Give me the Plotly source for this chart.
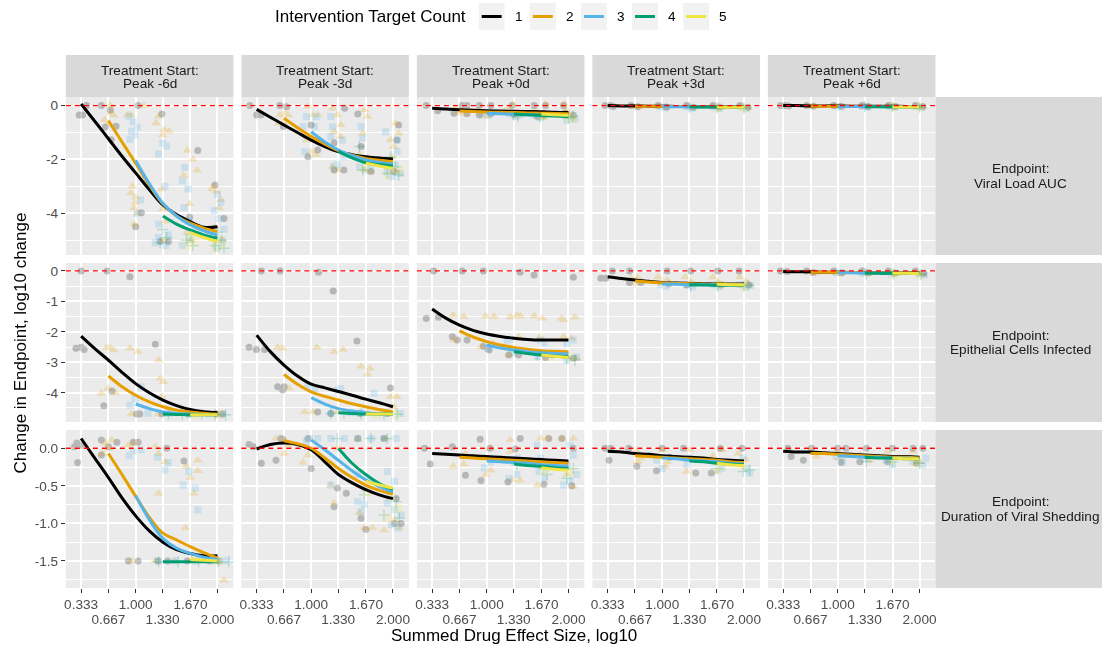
import plotly.graph_objects as go

W, H = 1103, 650
FONT = "Liberation Sans, Arial, sans-serif"

# ---------------- categories / labels ----------------
counts = [1, 2, 3, 4, 5]
count_colors = {1: "#000000", 2: "#E69F00", 3: "#56B4E9", 4: "#009E73", 5: "#F0E442"}
count_symbols = {1: "circle", 2: "triangle-up", 3: "square", 4: "cross-thin", 5: "square-x-open"}
starts = ["Peak -6d", "Peak -3d", "Peak +0d", "Peak +3d", "Peak +6d"]
endpoints = ["Viral Load AUC", "Epithelial Cells Infected", "Duration of Viral Shedding"]

x_ticks = [0.333, 0.667, 1.0, 1.33, 1.67, 2.0]
x_ticklabels = ["0.333", "0.667", "1.000", "1.330", "1.670", "2.000"]
fit_x = [0.333, 0.5, 0.667, 0.833, 1.0, 1.167, 1.333, 1.5, 1.667, 1.833, 2.0]

y_ticks_by_row = [[0, -2, -4], [0, -1, -2, -3, -4], [0.0, -0.5, -1.0, -1.5]]
y_ticklabels_by_row = [["0", "-2", "-4"], ["0", "-1", "-2", "-3", "-4"], ["0.0", "-0.5", "-1.0", "-1.5"]]
y_minor_by_row = [[-1, -3, -5], [-0.5, -1.5, -2.5, -3.5, -4.5], [-0.25, -0.75, -1.25, -1.75]]
y_ranges = [[-5.55, 0.32], [-4.96, 0.26], [-1.86, 0.243]]
x_range = [0.146, 2.195]

# ---------------- smoothed fits (y at fit_x, starting at x = count/3) ----------------
fit_vl_m6 = {1: [0.06, -0.58, -1.23, -1.88, -2.50, -3.12, -3.69, -4.05, -4.31, -4.52, -4.50],
             2: [-0.56, -1.35, -2.14, -2.95, -3.65, -4.10, -4.37, -4.55, -4.68],
             3: [-2.04, -2.90, -3.63, -4.10, -4.43, -4.65, -4.81],
             4: [-4.10, -4.40, -4.62, -4.80, -4.93],
             5: [-4.72, -4.90, -5.05]}
fit_vl_m3 = {1: [-0.14, -0.43, -0.72, -1.00, -1.28, -1.52, -1.71, -1.82, -1.90, -1.95, -1.98],
             2: [-0.47, -0.82, -1.15, -1.43, -1.67, -1.84, -1.96, -2.03, -2.08],
             3: [-0.97, -1.35, -1.65, -1.86, -2.02, -2.11, -2.17],
             4: [-1.71, -1.94, -2.12, -2.19, -2.24],
             5: [-2.14, -2.24, -2.33]}
fit_vl_p0 = {1: [-0.10, -0.13, -0.15, -0.17, -0.19, -0.20, -0.21, -0.22, -0.23, -0.25, -0.26],
             2: [-0.20, -0.22, -0.24, -0.25, -0.26, -0.27, -0.28, -0.29, -0.30],
             3: [-0.28, -0.30, -0.32, -0.34, -0.35, -0.37, -0.38],
             4: [-0.31, -0.34, -0.36, -0.39, -0.41],
             5: [-0.31, -0.34, -0.36]}
fit_vl_p3 = {1: [0.0, -0.01, -0.01, -0.02, -0.02, -0.03, -0.03, -0.03, -0.04, -0.04, -0.04],
             2: [-0.02, -0.02, -0.03, -0.03, -0.03, -0.04, -0.04, -0.05, -0.05],
             3: [-0.03, -0.04, -0.04, -0.05, -0.05, -0.06, -0.06],
             4: [-0.04, -0.05, -0.05, -0.06, -0.06],
             5: [-0.05, -0.06, -0.06]}
fit_vl_p6 = {1: [0.0, 0.0, -0.01, -0.01, -0.01, -0.02, -0.02, -0.02, -0.02, -0.03, -0.03],
             2: [-0.01, -0.02, -0.02, -0.02, -0.03, -0.03, -0.03, -0.03, -0.04],
             3: [-0.03, -0.03, -0.03, -0.04, -0.04, -0.04, -0.04],
             4: [-0.04, -0.04, -0.04, -0.05, -0.05],
             5: [-0.04, -0.05, -0.05]}
fit_ec_m6 = {1: [-2.14, -2.55, -2.93, -3.33, -3.70, -4.00, -4.24, -4.42, -4.55, -4.62, -4.65],
             2: [-3.45, -3.80, -4.08, -4.30, -4.46, -4.57, -4.63, -4.67, -4.70],
             3: [-4.37, -4.52, -4.63, -4.68, -4.70, -4.71, -4.72],
             4: [-4.70, -4.71, -4.72, -4.72, -4.72],
             5: [-4.72, -4.72, -4.72]}
fit_ec_m3 = {1: [-2.11, -2.65, -3.09, -3.45, -3.72, -3.84, -3.96, -4.08, -4.21, -4.33, -4.46],
             2: [-3.40, -3.72, -3.97, -4.12, -4.24, -4.36, -4.46, -4.55, -4.63],
             3: [-4.16, -4.37, -4.52, -4.60, -4.66, -4.69, -4.70],
             4: [-4.66, -4.68, -4.70, -4.70, -4.70],
             5: [-4.70, -4.70, -4.70]}
fit_ec_p0 = {1: [-1.25, -1.55, -1.78, -1.95, -2.07, -2.15, -2.21, -2.25, -2.27, -2.27, -2.27],
             2: [-1.97, -2.17, -2.32, -2.43, -2.51, -2.57, -2.62, -2.64, -2.65],
             3: [-2.43, -2.53, -2.60, -2.65, -2.69, -2.71, -2.73],
             4: [-2.65, -2.71, -2.76, -2.79, -2.82],
             5: [-2.76, -2.80, -2.84]}
fit_ec_p3 = {1: [-0.19, -0.25, -0.30, -0.34, -0.38, -0.40, -0.41, -0.42, -0.43, -0.43, -0.43],
             2: [-0.33, -0.36, -0.39, -0.41, -0.42, -0.43, -0.44, -0.44, -0.45],
             3: [-0.43, -0.44, -0.45, -0.45, -0.46, -0.46, -0.47],
             4: [-0.45, -0.46, -0.47, -0.47, -0.48],
             5: [-0.44, -0.45, -0.46]}
fit_ec_p6 = {1: [-0.02, -0.03, -0.03, -0.04, -0.04, -0.05, -0.05, -0.05, -0.06, -0.06, -0.06],
             2: [-0.04, -0.04, -0.05, -0.05, -0.06, -0.06, -0.06, -0.07, -0.07],
             3: [-0.06, -0.06, -0.07, -0.07, -0.07, -0.08, -0.08],
             4: [-0.07, -0.08, -0.08, -0.08, -0.09],
             5: [-0.08, -0.08, -0.09]}
fit_ds_m6 = {1: [0.13, -0.13, -0.39, -0.66, -0.90, -1.10, -1.25, -1.35, -1.40, -1.43, -1.43],
             2: [-0.07, -0.35, -0.64, -0.92, -1.13, -1.22, -1.31, -1.39, -1.46],
             3: [-0.63, -0.95, -1.20, -1.33, -1.40, -1.45, -1.48],
             4: [-1.51, -1.51, -1.51, -1.51, -1.51],
             5: [-1.48, -1.49, -1.50]}
fit_ds_m3 = {1: [-0.01, 0.05, 0.07, 0.05, -0.02, -0.18, -0.35, -0.46, -0.55, -0.62, -0.67],
             2: [0.10, 0.06, 0.0, -0.13, -0.27, -0.39, -0.49, -0.56, -0.61],
             3: [0.11, -0.02, -0.16, -0.30, -0.42, -0.51, -0.58],
             4: [0.0, -0.20, -0.35, -0.47, -0.55],
             5: [-0.44, -0.49, -0.53]}
fit_ds_p0 = {1: [-0.07, -0.08, -0.09, -0.10, -0.11, -0.12, -0.13, -0.14, -0.15, -0.16, -0.17],
             2: [-0.12, -0.13, -0.14, -0.15, -0.16, -0.17, -0.18, -0.19, -0.20],
             3: [-0.17, -0.18, -0.19, -0.20, -0.22, -0.23, -0.24],
             4: [-0.21, -0.23, -0.24, -0.26, -0.27],
             5: [-0.26, -0.28, -0.29]}
fit_ds_p3 = {1: [-0.04, -0.05, -0.07, -0.08, -0.10, -0.11, -0.12, -0.13, -0.15, -0.16, -0.17],
             2: [-0.10, -0.11, -0.12, -0.13, -0.14, -0.15, -0.16, -0.18, -0.19],
             3: [-0.13, -0.14, -0.16, -0.17, -0.18, -0.20, -0.21],
             4: [-0.17, -0.18, -0.20, -0.21, -0.22],
             5: [-0.20, -0.22, -0.23]}
fit_ds_p6 = {1: [-0.04, -0.05, -0.05, -0.06, -0.07, -0.08, -0.09, -0.10, -0.11, -0.11, -0.12],
             2: [-0.07, -0.07, -0.08, -0.09, -0.10, -0.11, -0.12, -0.12, -0.13],
             3: [-0.10, -0.11, -0.12, -0.12, -0.13, -0.13, -0.14],
             4: [-0.12, -0.13, -0.13, -0.14, -0.14],
             5: [-0.13, -0.14, -0.14]}

# ---------------- simulation points (x, y) ----------------
pts_vl_m6 = {
    1: [(0.31, -0.35), (0.35, -0.35), (0.40, 0.0), (0.58, 0.0), (0.69, -0.17), (0.63, -0.79), (0.76, -0.77), (0.70, -1.27), (1.03, 0.0), (1.00, -4.50), (1.07, -3.98), (1.32, -0.31), (1.76, -1.67), (1.97, -2.95), (1.66, -4.15), (2.08, -4.19), (1.30, -5.05), (1.40, -5.05)],
    2: [(0.69, 0.0), (0.70, -0.27), (0.73, -0.35), (0.62, -0.53), (0.67, -0.65), (0.90, -0.35), (0.94, -0.35), (0.96, -3.0), (0.94, -3.25), (1.0, -3.4), (0.98, -3.8), (1.0, -3.6), (1.02, -4.0), (0.98, -4.4), (1.10, 0.0), (1.28, -0.4), (1.25, -0.65), (1.33, -1.1), (1.35, -0.9), (1.41, -0.95), (1.32, -3.1), (1.33, -3.85), (1.36, -4.3), (1.34, -5.0), (1.63, -1.67), (1.70, -2.0), (1.75, -2.4), (1.59, -2.6), (1.66, -3.65), (1.63, -4.7), (1.68, -5.0), (1.95, -3.0), (1.93, -3.1), (1.99, -3.2), (2.04, -3.5), (2.02, -3.8), (1.97, -4.5), (2.06, -5.0)],
    3: [(0.92, -0.4), (0.97, -0.6), (1.02, -0.8), (0.99, -1.1), (0.93, -1.25), (0.95, -0.95), (1.06, -3.5), (1.02, -4.0), (1.33, -1.4), (1.38, -1.5), (1.28, -1.8), (1.36, -3.0), (1.28, -4.4), (1.40, -4.8), (1.28, -4.9), (1.24, -5.1), (1.37, -5.2), (1.60, -2.3), (1.57, -2.8), (1.64, -3.1), (1.59, -3.8), (1.65, -4.3), (1.66, -5.0), (1.57, -5.2), (2.0, -3.3), (2.04, -3.6), (1.96, -3.9), (2.02, -4.2), (2.08, -4.6), (2.06, -5.0), (1.98, -5.2), (2.0, -5.3)],
    4: [(1.33, -4.6), (1.38, -4.9), (1.30, -5.1), (1.67, -4.8), (1.62, -5.0), (1.70, -5.2), (2.0, -4.7), (2.05, -5.0), (1.97, -5.2), (2.08, -5.3)],
    5: [(1.67, -4.9), (1.72, -5.1), (1.63, -5.2), (2.0, -5.0), (2.05, -5.2), (1.97, -5.3)],
}
pts_vl_m3 = {
    1: [(0.25, 0), (0.333, -0.35), (0.386, -0.35), (0.616, 0), (0.70, -0.04), (0.66, -0.78), (1.0, -0.72), (0.96, -1.9), (1.08, -1.65), (1.28, -1.38), (1.41, -0.1), (1.57, -0.31), (1.61, -1.52), (2.07, -0.72), (2.05, -1.28), (1.28, -2.39), (1.40, -2.39), (1.73, -2.45), (2.01, -2.45)],
    2: [(0.616, -0.35), (0.68, -0.29), (0.72, -0.35), (0.60, -0.66), (0.66, -0.66), (0.96, -0.04), (1.02, -0.35), (1.08, -0.35), (0.94, -1.28), (1.0, -1.71), (1.06, -1.83), (1.26, -0.1), (1.32, -0.35), (1.36, -0.72), (1.28, -0.97), (1.36, -1.15), (1.26, -2.27), (1.32, -2.39), (1.65, -0.16), (1.69, -0.41), (1.63, -1.03), (1.59, -1.83), (1.65, -2.39), (1.73, -2.45), (2.03, -0.66), (2.07, -1.03), (1.97, -1.28), (2.01, -1.52), (1.99, -1.9), (2.05, -2.45)],
    3: [(0.94, -0.41), (0.90, -0.78), (0.92, -1.71), (1.06, -0.41), (1.04, -0.78), (1.24, -0.41), (1.26, -0.78), (1.24, -1.15), (1.38, -1.28), (1.40, -1.9), (1.32, -2.2), (1.28, -2.27), (1.61, -0.78), (1.63, -1.21), (1.59, -2.27), (1.67, -2.39), (1.73, -2.33), (1.91, -0.97), (2.05, -1.28), (2.05, -1.71), (2.03, -2.2), (1.93, -2.45), (2.09, -2.52), (1.99, -2.64)],
    4: [(1.59, -1.52), (1.69, -2.02), (1.63, -2.39), (1.97, -1.9), (2.03, -2.27), (1.93, -2.52), (2.07, -2.58)],
    5: [(1.65, -2.33), (1.97, -2.08), (2.07, -2.39), (1.93, -2.58)],
}
pts_vl_p0 = {
    1: [(0.26, 0), (0.40, -0.19), (0.60, -0.28), (0.70, 0), (0.76, 0), (0.76, -0.30), (0.91, 0), (0.91, -0.35), (1.05, 0), (1.05, -0.30), (1.31, 0), (1.33, -0.32), (1.58, 0), (1.62, -0.40), (1.72, 0), (1.70, -0.36), (1.94, 0), (1.96, -0.28), (2.06, -0.35)],
    2: [(0.62, -0.10), (0.70, -0.20), (0.72, -0.30), (0.64, -0.25), (0.90, -0.15), (0.95, -0.30), (1.00, -0.40), (1.05, -0.20), (1.25, -0.10), (1.30, -0.30), (1.36, -0.40), (1.32, 0.05), (1.60, -0.20), (1.65, -0.35), (1.72, 0.05), (1.70, -0.45), (1.95, 0.05), (2.00, -0.30), (2.05, -0.45), (1.97, -0.15)],
    3: [(0.95, -0.30), (1.02, -0.35), (1.08, -0.25), (1.28, -0.30), (1.35, -0.40), (1.40, -0.35), (1.58, -0.35), (1.65, -0.45), (1.72, -0.30), (1.95, -0.35), (2.02, -0.45), (2.08, -0.50), (1.98, -0.55)],
    4: [(1.33, -0.35), (1.38, -0.40), (1.65, -0.42), (1.70, -0.35), (2.00, -0.45), (2.05, -0.40)],
    5: [(1.67, -0.35), (2.00, -0.42), (2.04, -0.50)],
}
pts_vl_p3 = {
    1: [(0.30, 0), (0.37, 0), (0.40, -0.03), (0.62, 0), (0.70, -0.04), (0.95, 0), (1.05, -0.05), (1.30, 0), (1.38, -0.06), (1.62, 0), (1.70, -0.05), (1.95, 0), (2.05, -0.06)],
    2: [(0.62, -0.02), (0.72, -0.06), (0.95, -0.03), (1.05, -0.07), (1.28, -0.02), (1.38, -0.08), (1.62, -0.03), (1.72, -0.08), (1.95, -0.02), (2.05, -0.08)],
    3: [(0.98, -0.05), (1.04, -0.08), (1.30, -0.05), (1.37, -0.10), (1.63, -0.05), (1.70, -0.10), (1.96, -0.05), (2.03, -0.11)],
    4: [(1.33, -0.06), (1.67, -0.08), (2.00, -0.09)],
    5: [(1.67, -0.08), (2.00, -0.10)],
}
pts_vl_p6 = {
    1: [(0.30, 0), (0.36, 0), (0.40, -0.01), (0.62, 0), (0.70, -0.02), (0.95, 0), (1.04, -0.02), (1.30, 0), (1.37, -0.03), (1.62, 0), (1.70, -0.03), (1.95, 0), (2.04, -0.03)],
    2: [(0.63, -0.01), (0.72, -0.03), (0.96, -0.02), (1.05, -0.04), (1.28, -0.01), (1.38, -0.04), (1.62, -0.02), (1.72, -0.05), (1.96, -0.02), (2.05, -0.05)],
    3: [(0.98, -0.03), (1.04, -0.05), (1.30, -0.03), (1.37, -0.06), (1.63, -0.03), (1.70, -0.06), (1.96, -0.03), (2.03, -0.07)],
    4: [(1.33, -0.04), (1.67, -0.05), (2.00, -0.06)],
    5: [(1.67, -0.05), (2.00, -0.06)],
}
pts_ec_m6 = {
    1: [(0.27, -2.54), (0.333, -2.51), (0.37, -2.58), (0.333, 0), (0.65, 0), (0.93, -0.19), (0.61, -4.43), (0.71, -3.94), (1.24, -2.41), (1.01, -4.70), (1.05, -4.70), (1.32, -4.70), (1.65, -4.70), (1.98, -4.70), (2.06, -4.70)],
    2: [(0.65, -2.51), (0.69, -2.54), (0.73, -2.60), (0.93, -2.54), (1.03, -2.65), (1.28, -2.93), (1.30, -3.53), (1.34, -3.64), (1.32, -4.13), (0.58, -4.02), (0.66, -3.86), (0.75, -4.0), (0.95, -4.70), (1.28, -4.70), (1.48, -4.70), (1.73, -4.70), (2.01, -4.70)],
    3: [(0.93, -4.41), (0.99, -4.2), (1.07, -3.8), (1.15, -4.68), (1.40, -4.68), (1.65, -4.70), (1.89, -4.70), (2.06, -4.70)],
    4: [(1.40, -4.72), (1.57, -4.72), (1.81, -4.72), (1.97, -4.72), (2.10, -4.72)],
    5: [(1.73, -4.72), (2.01, -4.72)],
}
pts_ec_m3 = {
    1: [(0.24, -2.51), (0.33, -2.58), (0.43, -2.58), (0.39, 0), (0.62, 0), (1.09, -0.04), (1.27, -0.66), (1.56, -2.30), (0.59, -3.80), (0.65, -3.91), (0.67, -3.80), (1.08, -4.63), (1.24, -4.68), (1.60, -4.68), (1.97, -3.84), (1.93, -4.68)],
    2: [(0.59, -2.51), (0.65, -2.54), (1.07, -2.51), (1.28, -2.65), (1.39, -2.58), (1.61, -3.13), (1.72, -3.20), (1.69, -3.40), (1.97, -4.13), (2.05, -4.13), (0.73, -3.86), (0.92, -4.63), (1.02, -4.63), (1.32, -4.63), (1.40, -4.63), (1.69, -4.66), (1.93, -4.66), (2.01, -4.46)],
    3: [(0.96, -3.80), (1.04, -3.86), (1.32, -3.91), (1.36, -3.86), (1.77, -4.02), (1.24, -4.68), (1.48, -4.66), (1.62, -4.66), (1.93, -4.66), (2.09, -4.68)],
    4: [(1.24, -4.68), (1.40, -4.68), (1.61, -4.70), (1.89, -4.70), (2.05, -4.70)],
    5: [(1.81, -4.70), (2.03, -4.70)],
}
pts_ec_p0 = {
    1: [(0.26, -1.56), (0.41, -1.52), (0.35, 0), (0.70, 0), (0.96, 0), (1.41, -0.04), (1.58, -0.13), (2.06, -0.21), (0.58, -2.16), (0.64, -2.27), (0.76, -2.27), (0.96, -2.47), (1.03, -2.60), (1.27, -2.76), (1.39, -2.76), (1.72, -2.84), (2.06, -2.87)],
    2: [(0.59, -1.45), (0.72, -1.50), (0.99, -1.48), (1.09, -1.50), (1.29, -1.52), (1.37, -1.45), (1.41, -1.48), (1.58, -1.48), (1.68, -1.56), (1.91, -1.56), (1.94, -1.61), (2.08, -1.52), (0.60, -2.27), (0.93, -2.49), (1.08, -2.38), (1.39, -2.16), (1.65, -2.18), (1.94, -2.16), (2.04, -2.21), (1.27, -2.76), (1.60, -2.71), (1.77, -2.80), (1.98, -2.82), (2.10, -2.87)],
    3: [(1.25, -2.27), (1.29, -2.25), (1.66, -2.27), (1.70, -2.36), (1.98, -2.38), (2.06, -2.27), (1.01, -2.54), (1.33, -2.69), (1.62, -2.82), (1.78, -2.71), (1.98, -2.93), (2.10, -2.82)],
    4: [(1.62, -2.76), (1.98, -2.87), (2.08, -2.93)],
    5: [(1.78, -2.82), (2.02, -2.82)],
}
pts_ec_p3 = {
    1: [(0.25, -0.24), (0.31, -0.24), (0.39, 0), (0.60, 0), (0.60, -0.38), (0.74, -0.38), (1.06, 0), (1.08, -0.43), (1.35, 0), (1.30, -0.46), (1.68, 0), (1.72, -0.46), (1.94, 0), (2.06, -0.46)],
    2: [(0.62, -0.25), (0.70, -0.20), (0.75, -0.35), (0.68, -0.42), (0.95, -0.20), (1.00, -0.40), (1.06, -0.30), (1.28, -0.20), (1.35, -0.35), (1.40, -0.45), (1.62, -0.20), (1.68, -0.35), (1.74, -0.45), (1.95, -0.20), (2.02, -0.35), (2.07, -0.45)],
    3: [(0.98, -0.45), (1.04, -0.50), (1.30, -0.45), (1.37, -0.52), (1.62, -0.45), (1.70, -0.52), (1.95, -0.45), (2.02, -0.52), (2.08, -0.48)],
    4: [(1.35, -0.50), (1.68, -0.50), (2.00, -0.52), (2.05, -0.47)],
    5: [(1.70, -0.48), (2.00, -0.50)],
}
pts_ec_p6 = {
    1: [(0.30, 0), (0.38, -0.02), (0.62, 0), (0.70, -0.05), (0.95, 0), (1.05, -0.06), (1.30, 0), (1.38, -0.06), (1.62, 0), (1.70, -0.07), (1.95, 0), (2.05, -0.08)],
    2: [(0.64, -0.03), (0.72, -0.08), (0.96, -0.04), (1.04, -0.10), (1.28, -0.04), (1.36, -0.10), (1.62, -0.05), (1.72, -0.10), (1.96, -0.05), (2.04, -0.11)],
    3: [(0.98, -0.06), (1.30, -0.08), (1.65, -0.09), (2.00, -0.10), (2.06, -0.13)],
    4: [(1.35, -0.09), (1.68, -0.10), (2.02, -0.12)],
    5: [(1.68, -0.10), (2.00, -0.12)],
}
pts_ds_m6 = {
    1: [(0.25, 0.02), (0.28, 0.07), (0.333, 0.04), (0.29, -0.19), (0.58, 0.11), (0.58, -0.09), (0.667, 0.02), (0.77, 0.08), (0.97, 0.08), (1.03, 0.08), (1.38, 0.0), (1.59, -0.17), (0.91, -1.50), (1.03, -1.50), (1.27, -1.50), (1.39, -1.50), (1.63, -1.50), (1.90, -1.50), (2.02, -1.50)],
    2: [(0.63, 0.07), (0.71, 0.11), (0.67, 0.0), (0.59, -0.07), (0.91, 0.04), (0.97, 0.07), (1.24, 0.02), (1.28, -0.07), (1.36, -0.18), (1.28, -0.60), (1.62, -0.24), (1.67, -0.39), (1.71, -0.60), (1.76, -0.16), (1.76, -0.30), (1.61, -1.06), (2.08, -1.76), (0.95, -1.50), (1.24, -1.50), (1.48, -1.50), (1.68, -1.48), (1.97, -1.50)],
    3: [(0.92, -0.10), (0.97, -0.04), (1.07, -0.02), (1.27, -0.12), (1.36, -0.29), (1.40, -0.19), (1.58, -0.49), (1.65, -0.31), (1.73, -0.53), (1.76, -0.82), (1.28, -1.50), (1.48, -1.50), (1.73, -1.50), (1.97, -1.50), (2.10, -1.50)],
    4: [(1.28, -1.51), (1.52, -1.51), (1.77, -1.51), (2.01, -1.51), (2.14, -1.51)],
    5: [(1.73, -1.48), (2.01, -1.50)],
}
pts_ds_m3 = {
    1: [(0.24, 0.05), (0.29, 0.02), (0.39, -0.20), (0.57, -0.16), (0.63, 0.13), (0.65, 0.12), (1.0, -0.27), (0.96, 0.13), (1.32, -0.53), (1.43, -0.60), (1.28, -0.78), (1.61, -0.93), (1.67, -1.08), (2.04, -0.67), (2.02, -1.0), (2.10, -1.0), (1.57, 0.13), (1.89, 0.13)],
    2: [(0.57, 0.13), (0.67, 0.11), (0.72, 0.04), (0.67, -0.07), (0.90, -0.19), (0.96, -0.09), (1.24, -0.49), (1.28, -0.73), (1.32, 0.0), (1.57, 0.12), (1.59, -0.86), (1.65, -1.06), (1.75, -1.06), (1.91, 0.13), (2.02, -0.95), (1.89, -1.09), (2.08, -1.06)],
    3: [(0.98, 0.13), (1.08, 0.13), (1.24, 0.13), (1.41, 0.13), (1.57, 0.13), (1.73, 0.13), (1.89, 0.13), (2.04, 0.13), (0.94, 0.09), (1.57, -0.35), (1.65, -0.53), (1.57, -0.71), (1.61, -0.84), (1.93, -0.31), (2.02, -0.44), (1.93, -0.73), (2.02, -0.82), (2.10, -0.89), (1.98, -1.02), (2.06, -1.06), (1.65, -0.75), (1.24, -0.49)],
    4: [(1.32, 0.13), (1.73, 0.13), (1.93, 0.13), (1.65, -0.62), (1.93, -0.64), (2.04, -0.71), (1.89, -0.89), (2.08, -0.93)],
    5: [(1.69, -0.58), (1.98, -0.64), (2.06, -0.80), (1.93, -0.93)],
}
pts_ds_p0 = {
    1: [(0.24, 0), (0.31, -0.21), (0.58, 0.02), (0.74, -0.36), (0.92, 0.12), (0.93, -0.43), (1.04, 0), (1.26, -0.45), (1.35, -0.01), (1.41, 0.13), (1.70, -0.48), (1.76, 0.13), (1.92, 0.13), (2.04, -0.50), (2.06, 0)],
    2: [(0.59, -0.24), (0.72, -0.21), (0.74, -0.07), (0.99, -0.35), (1.05, -0.29), (1.05, 0), (1.29, 0.11), (1.29, -0.04), (1.31, -0.42), (1.41, -0.43), (1.66, 0.13), (1.74, 0.13), (1.62, -0.49), (1.92, 0.13), (2.06, 0.13), (2.06, -0.51), (1.98, -0.35)],
    3: [(0.97, -0.26), (1.05, -0.18), (1.27, -0.40), (1.37, -0.35), (1.37, -0.13), (1.62, 0.04), (1.66, -0.13), (1.64, -0.31), (1.70, -0.40), (2.02, 0.04), (2.06, -0.09), (1.98, -0.22), (2.10, -0.35), (2.02, -0.44), (1.94, -0.49)],
    4: [(1.37, -0.22), (1.70, -0.27), (2.06, -0.27), (1.98, -0.40), (1.74, -0.35)],
    5: [(1.70, -0.31), (2.02, -0.31)],
}
pts_ds_p3 = {
    1: [(0.30, 0), (0.37, 0), (0.35, -0.16), (0.59, 0), (0.69, -0.24), (0.93, -0.30), (1.00, 0), (1.09, -0.12), (1.26, 0), (1.41, -0.33), (1.71, 0), (1.60, -0.33), (1.98, 0)],
    2: [(0.73, -0.13), (0.70, -0.18), (1.04, -0.24), (1.06, -0.18), (1.30, -0.31), (1.67, -0.31), (1.73, -0.02), (1.93, -0.07), (0.69, -0.04), (1.0, -0.02), (1.34, -0.02), (1.62, -0.10), (2.02, -0.15)],
    3: [(0.93, -0.16), (1.00, -0.27), (1.30, -0.22), (1.34, -0.13), (1.67, -0.18), (1.73, -0.27), (1.99, -0.13), (2.03, -0.27), (2.07, -0.33)],
    4: [(1.67, -0.27), (1.99, -0.31), (2.07, -0.29)],
    5: [(1.99, -0.24), (1.71, -0.24)],
}
pts_ds_p6 = {
    1: [(0.39, 0), (0.43, -0.11), (0.58, -0.16), (0.68, 0), (1.00, 0), (1.04, -0.19), (1.10, 0), (1.35, 0), (1.27, -0.18), (1.67, 0), (1.61, -0.18), (1.92, 0), (2.04, 0), (1.96, -0.20)],
    2: [(0.66, -0.04), (0.74, -0.11), (0.98, -0.04), (1.02, -0.13), (1.27, -0.09), (1.39, -0.16), (1.61, -0.04), (1.67, -0.13), (1.92, -0.04), (2.0, -0.18)],
    3: [(0.98, -0.11), (1.06, -0.18), (1.35, -0.13), (1.59, -0.16), (1.67, -0.22), (1.92, -0.18), (2.04, -0.22), (2.08, -0.13)],
    4: [(1.35, -0.18), (1.67, -0.18), (2.0, -0.20)],
    5: [(1.67, -0.16), (1.96, -0.20)],
}

points_grid = [[pts_vl_m6, pts_vl_m3, pts_vl_p0, pts_vl_p3, pts_vl_p6],
               [pts_ec_m6, pts_ec_m3, pts_ec_p0, pts_ec_p3, pts_ec_p6],
               [pts_ds_m6, pts_ds_m3, pts_ds_p0, pts_ds_p3, pts_ds_p6]]
fits_grid = [[fit_vl_m6, fit_vl_m3, fit_vl_p0, fit_vl_p3, fit_vl_p6],
             [fit_ec_m6, fit_ec_m3, fit_ec_p0, fit_ec_p3, fit_ec_p6],
             [fit_ds_m6, fit_ds_m3, fit_ds_p0, fit_ds_p3, fit_ds_p6]]

# ---------------- layout geometry (pixels) ----------------
col_px = [(64, 232), (240, 408), (416, 584), (592, 760), (768, 936)]
row_px = [(97, 255), (263, 422), (430, 588)]
strip_top = (55, 97)
right_strip_x = (936, 1103)

TICK_COLOR = "#4D4D4D"
TICK_FONT = dict(family=FONT, size=13.6, color=TICK_COLOR)


def px_x(p):
    return p / W


def px_y(p):
    return 1 - p / H


fig = go.Figure()
layout = {}
shapes = []
annotations = []

for r in range(3):
    for c in range(5):
        idx = r * 5 + c + 1
        xa = "x" if idx == 1 else f"x{idx}"
        ya = "y" if idx == 1 else f"y{idx}"
        pts = points_grid[r][c]
        fit = fits_grid[r][c]
        for k in counts:
            xs = [p[0] for p in pts[k]]
            ys = [p[1] for p in pts[k]]
            if k in (4, 5):
                mk = dict(symbol=count_symbols[k], size=8 if k == 4 else 7, color=count_colors[k],
                          line=dict(color=count_colors[k], width=1.4))
            else:
                mk = dict(symbol=count_symbols[k], size={1: 7, 2: 8.5, 3: 7}[k], color=count_colors[k],
                          line=dict(width=0))
            fig.add_trace(go.Scatter(x=xs, y=ys, mode="markers", marker=mk, opacity=0.22,
                                     xaxis=xa, yaxis=ya, showlegend=False, hoverinfo="skip"))
        for k in counts:
            s = 2 * (k - 1)
            fig.add_trace(go.Scatter(x=fit_x[s:], y=fit[k], mode="lines",
                                     line=dict(color=count_colors[k], width=3, shape="spline", smoothing=1.0),
                                     xaxis=xa, yaxis=ya, showlegend=False, name=str(k)))
        # reference line at zero
        shapes.append(dict(type="line", xref=f"{xa} domain", x0=0, x1=1, yref=ya, y0=0, y1=0,
                           line=dict(color="#FF0000", width=1.4, dash="5px,4px"), layer="above"))

        bottom = (r == 2)
        first_col = (c == 0)
        layout["xaxis" if idx == 1 else f"xaxis{idx}"] = dict(
            domain=[px_x(col_px[c][0]), px_x(col_px[c][1])], range=x_range, anchor=ya,
            tickmode="array", tickvals=x_ticks,
            ticktext=[t if i % 2 == 0 else "" for i, t in enumerate(x_ticklabels)],
            showticklabels=bottom, ticks="outside" if bottom else "", ticklen=4, tickwidth=1.3,
            tickcolor="#333333", tickfont=TICK_FONT, showgrid=True, gridcolor="white", gridwidth=1.6,
            zeroline=False, showline=False, fixedrange=True)
        layout["yaxis" if idx == 1 else f"yaxis{idx}"] = dict(
            domain=[px_y(row_px[r][1]), px_y(row_px[r][0])], range=y_ranges[r], anchor=xa,
            tickmode="array", tickvals=y_ticks_by_row[r], ticktext=y_ticklabels_by_row[r],
            showticklabels=first_col, ticks="outside" if first_col else "", ticklen=4, tickwidth=1.3,
            tickcolor="#333333", tickfont=TICK_FONT, showgrid=True, gridcolor="white", gridwidth=1.6,
            minor=dict(tickmode="array", tickvals=y_minor_by_row[r], showgrid=True, gridcolor="white",
                       gridwidth=0.8, ticks=""),
            zeroline=False, showline=False, fixedrange=True)

# second line of dodged x tick labels (overlay axes on bottom row)
for c in range(5):
    base = 11 + c
    oidx = 16 + c
    layout[f"xaxis{oidx}"] = dict(
        overlaying=f"x{base}", anchor=f"y{base}", range=x_range, side="bottom",
        tickmode="array", tickvals=x_ticks,
        ticktext=[t if i % 2 == 1 else "" for i, t in enumerate(x_ticklabels)],
        ticks="outside", ticklen=4, tickcolor="rgba(0,0,0,0)", tickfont=TICK_FONT,
        ticklabelstandoff=15, showgrid=False, zeroline=False, showline=False, fixedrange=True)
    fig.add_trace(go.Scatter(x=[None], y=[None], xaxis=f"x{oidx}", yaxis=f"y{base}",
                             showlegend=False, hoverinfo="skip"))

# strips
STRIP_FILL = "#D9D9D9"
STRIP_FONT = dict(family=FONT, size=13.6, color="#1A1A1A")
for c in range(5):
    shapes.append(dict(type="rect", xref="paper", yref="paper",
                       x0=px_x(col_px[c][0]), x1=px_x(col_px[c][1]),
                       y0=px_y(strip_top[1]), y1=px_y(strip_top[0]),
                       fillcolor=STRIP_FILL, line=dict(width=0), layer="below"))
    cx = px_x((col_px[c][0] + col_px[c][1]) / 2)
    annotations.append(dict(text="Treatment Start:", x=cx, y=px_y(70), xref="paper", yref="paper",
                            showarrow=False, font=STRIP_FONT, xanchor="center", yanchor="middle"))
    annotations.append(dict(text=starts[c], x=cx, y=px_y(83.5), xref="paper", yref="paper",
                            showarrow=False, font=STRIP_FONT, xanchor="center", yanchor="middle"))
for r in range(3):
    shapes.append(dict(type="rect", xref="paper", yref="paper",
                       x0=px_x(right_strip_x[0]), x1=px_x(right_strip_x[1]),
                       y0=px_y(row_px[r][1]), y1=px_y(row_px[r][0]),
                       fillcolor=STRIP_FILL, line=dict(width=0), layer="below"))
    cy = (row_px[r][0] + row_px[r][1]) / 2
    cx = px_x(1021)
    annotations.append(dict(text="Endpoint:", x=cx, y=px_y(cy - 7.3), xref="paper", yref="paper",
                            showarrow=False, font=STRIP_FONT, xanchor="center", yanchor="middle"))
    annotations.append(dict(text=endpoints[r], x=cx, y=px_y(cy + 7.3), xref="paper", yref="paper",
                            showarrow=False, font=STRIP_FONT, xanchor="center", yanchor="middle"))

# axis titles
annotations.append(dict(text="Summed Drug Effect Size, log10", x=px_x(513), y=px_y(635), xref="paper",
                        yref="paper", showarrow=False, font=dict(family=FONT, size=17, color="black"),
                        xanchor="center", yanchor="middle"))
annotations.append(dict(text="Change in Endpoint, log10 change", x=px_x(19), y=px_y(342.5), xref="paper",
                        yref="paper", showarrow=False, textangle=-90,
                        font=dict(family=FONT, size=17, color="black"), xanchor="center", yanchor="middle"))

# legend (drawn as keys + labels)
annotations.append(dict(text="Intervention Target Count", x=px_x(272), y=px_y(16.5), xref="paper",
                        yref="paper", showarrow=False, font=dict(family=FONT, size=17, color="black"),
                        xanchor="left", yanchor="middle"))
for i, k in enumerate(counts):
    bx = 478 + 51.25 * i
    shapes.append(dict(type="rect", xref="paper", yref="paper", x0=px_x(bx), x1=px_x(bx + 26),
                       y0=px_y(30), y1=px_y(3), fillcolor="#F2F2F2", line=dict(width=0)))
    shapes.append(dict(type="line", xref="paper", yref="paper", x0=px_x(bx + 3), x1=px_x(bx + 23),
                       y0=px_y(16.5), y1=px_y(16.5), line=dict(color=count_colors[k], width=3)))
    annotations.append(dict(text=str(k), x=px_x(bx + 34), y=px_y(16.5), xref="paper", yref="paper",
                            showarrow=False, font=dict(family=FONT, size=13.6, color="black"),
                            xanchor="left", yanchor="middle"))

fig.update_layout(
    width=W, height=H, margin=dict(l=0, r=0, t=0, b=0),
    paper_bgcolor="white", plot_bgcolor="#EBEBEB",
    showlegend=False, shapes=shapes, annotations=annotations,
    font=dict(family=FONT),
    **layout,
)

fig.write_html("out.html", config={"displayModeBar": False},
               post_script="document.body.style.margin='0';")
